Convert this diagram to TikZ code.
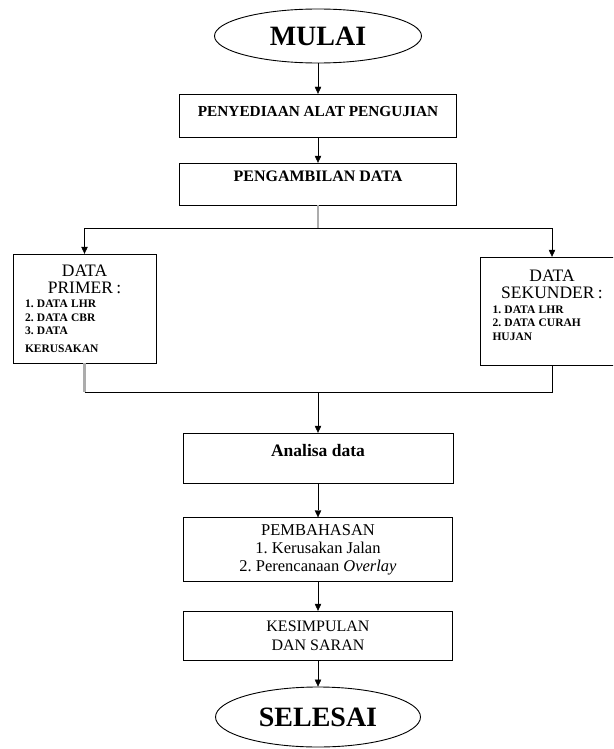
\documentclass[tikz,border=0pt]{standalone}
\usepackage{fontspec}
\setmainfont{Liberation Serif}
\frenchspacing
\usetikzlibrary{arrows.meta, shapes.geometric, positioning}
\tikzset{
->, % every connector ends in a head
>={Triangle[length=7pt,width=6.5pt]}, % small solid heads
x=1pt, y=-1pt, % one unit is one pixel, y runs downwards
line width=1.1pt,
terminal/.style={ellipse, draw, line width=0.9pt, minimum width=207pt, minimum height=54pt, inner sep=0pt, font=\fontsize{28}{28}\selectfont\bfseries}, % MULAI and SELESAI
langkah/.style={rectangle, draw, minimum width=277pt, inner sep=0pt, align=center}, % the boxes in the middle column
databox/.style={rectangle, draw, minimum width=143pt, text width=119pt, inner sep=0pt, align=left}, % the two data boxes
garisabu/.style={-, draw=gray!65, line width=2.2pt}, % grey stubs under some boxes
}
\begin{document}
\begin{tikzpicture}
    \clip (0,0) rectangle (613,749);

    \node[terminal] (mulai) at (318,36) {MULAI};
    \node[langkah, minimum height=43pt, text depth=8pt, font=\fontsize{15.3}{17}\selectfont\bfseries] (alat) at (318,115.5) {PENYEDIAAN ALAT PENGUJIAN};
    \node[langkah, minimum height=42pt, text depth=16pt, font=\fontsize{16}{18}\selectfont\bfseries] (ambil) at (318,184) {PENGAMBILAN DATA};
    \node[databox, minimum height=109pt] (primer) at (84.5,308.5) {%
        {\centering\fontsize{17.5}{17}\selectfont DATA\\PRIMER :\par}\vspace{1pt}
        {\fontsize{11.5}{13.5}\selectfont\bfseries 1. DATA LHR\\2. DATA CBR\\3. DATA\\[4pt]KERUSAKAN\par}};
    \node[databox, minimum height=108pt] (sekunder) at (552,311) {%
        {\centering\fontsize{17.5}{17}\selectfont DATA\\SEKUNDER :\par}\vspace{1pt}
        {\fontsize{11.5}{13.5}\selectfont\bfseries 1. DATA LHR\\2. DATA CURAH\\HUJAN\par}\rule{0pt}{0pt}\par};
    \node[langkah, minimum width=270pt, minimum height=50pt, text depth=15pt, font=\fontsize{17.5}{19}\selectfont\bfseries] (analisa) at (318,458) {Analisa data};
    \node[langkah, minimum width=269pt, minimum height=64pt, font=\fontsize{16.5}{18}\selectfont] (bahas) at (318,549.5) {PEMBAHASAN\\1. Kerusakan Jalan\\2. Perencanaan \textit{Overlay}};
    \node[langkah, minimum width=269pt, minimum height=49pt, font=\fontsize{16}{19}\selectfont] (simpulan) at (318,635.5) {KESIMPULAN\\DAN SARAN};
    \node[terminal, minimum width=205pt, minimum height=60pt] (selesai) at (318,717) {SELESAI};

    \coordinate (cabang) at (318,228);
    \coordinate (gabung) at (318,392);

    \draw (mulai.south) -- (alat.north);
    \draw (alat.south) -- (ambil.north);
    \draw[garisabu] (ambil.south) -- (cabang);
    \draw (cabang) -| (primer.north);
    \draw (cabang) -| (sekunder.north);
    \draw[garisabu] (primer.south) -- (primer.south |- gabung);
    \draw[-] (primer.south |- gabung) -- (sekunder.south |- gabung) -- (sekunder.south);
    \draw (gabung) -- (analisa.north);
    \draw (analisa.south) -- (bahas.north);
    \draw (bahas.south) -- (simpulan.north);
    \draw (simpulan.south) -- (selesai.north);
\end{tikzpicture}
\end{document}
